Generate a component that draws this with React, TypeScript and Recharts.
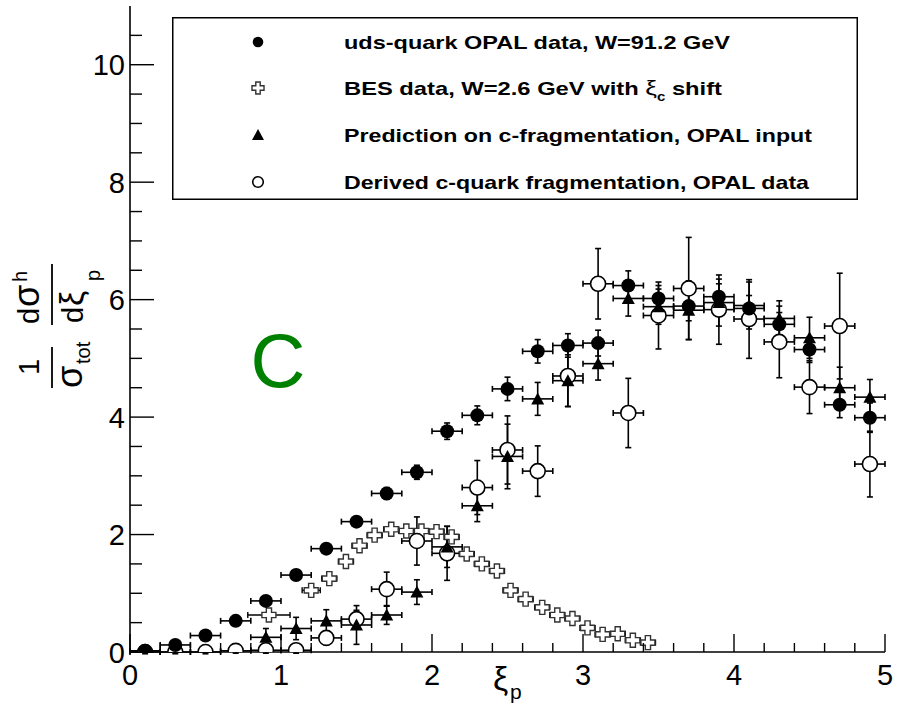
import React from "react";
import { ComposedChart, Scatter, XAxis, YAxis, ErrorBar, Legend } from "recharts";

// uds-quark OPAL data, W=91.2 GeV
const opalX = [0.1, 0.3, 0.5, 0.7, 0.9, 1.1, 1.3, 1.5, 1.7, 1.9, 2.1, 2.3, 2.5, 2.7, 2.9, 3.1, 3.3, 3.5, 3.7, 3.9, 4.1, 4.3, 4.5, 4.7, 4.9];
const opalY = [0.02, 0.12, 0.28, 0.53, 0.87, 1.31, 1.76, 2.22, 2.7, 3.06, 3.76, 4.03, 4.48, 5.12, 5.22, 5.26, 6.24, 6.02, 5.89, 6.05, 5.85, 5.58, 5.15, 4.21, 3.99];
const opalErr = [0.02, 0.03, 0.03, 0.04, 0.05, 0.06, 0.07, 0.08, 0.1, 0.12, 0.14, 0.16, 0.2, 0.2, 0.2, 0.22, 0.25, 0.22, 0.25, 0.22, 0.22, 0.2, 0.22, 0.22, 0.25];

// BES data, W=2.6 GeV with xi_c shift
const besX = [0.92, 1.2, 1.32, 1.43, 1.52, 1.62, 1.73, 1.83, 1.93, 2.03, 2.13, 2.23, 2.33, 2.43, 2.52, 2.62, 2.73, 2.83, 2.93, 3.03, 3.13, 3.23, 3.33, 3.43];
const besY = [0.63, 1.05, 1.25, 1.54, 1.81, 1.99, 2.09, 2.06, 2.06, 2.05, 1.96, 1.67, 1.5, 1.38, 1.05, 0.9, 0.76, 0.63, 0.57, 0.41, 0.3, 0.31, 0.2, 0.16];
const besXErr = [0.14, 0.06, 0.05, 0.05, 0.05, 0.05, 0.05, 0.05, 0.05, 0.05, 0.05, 0.05, 0.05, 0.05, 0.05, 0.05, 0.05, 0.05, 0.05, 0.05, 0.05, 0.05, 0.05, 0.05];
const besYErr = [0.02, 0.02, 0.02, 0.02, 0.02, 0.02, 0.02, 0.02, 0.02, 0.02, 0.02, 0.02, 0.02, 0.02, 0.02, 0.02, 0.02, 0.02, 0.02, 0.02, 0.02, 0.02, 0.02, 0.02];

// Prediction on c-fragmentation, OPAL input
const predX = [0.9, 1.1, 1.3, 1.5, 1.7, 1.9, 2.1, 2.3, 2.5, 2.7, 2.9, 3.1, 3.3, 3.5, 3.7, 3.9, 4.1, 4.3, 4.5, 4.7, 4.9];
const predY = [0.25, 0.4, 0.53, 0.46, 0.63, 1.02, 1.79, 2.49, 3.33, 4.31, 4.62, 4.91, 6.02, 5.88, 5.82, 5.95, 5.9, 5.68, 5.35, 4.5, 4.34];
const predErr = [0.15, 0.19, 0.19, 0.33, 0.16, 0.21, 0.35, 0.27, 0.55, 0.28, 0.44, 0.28, 0.3, 0.3, 0.5, 0.4, 0.4, 0.3, 0.35, 0.35, 0.3];

// Derived c-quark fragmentation, OPAL data
const derX = opalX;
const derY = [0, 0, 0, 0.02, 0.03, 0.03, 0.24, 0.56, 1.07, 1.89, 1.68, 2.8, 3.44, 3.08, 4.7, 6.27, 4.07, 5.73, 6.19, 5.83, 5.67, 5.28, 4.51, 5.55, 3.2];
const derErr = [0.03, 0.03, 0.03, 0.04, 0.05, 0.05, 0.12, 0.15, 0.29, 0.41, 0.46, 0.46, 0.58, 0.43, 0.52, 0.6, 0.59, 0.57, 0.87, 0.59, 0.67, 0.61, 0.45, 0.9, 0.56];

const BIN_HALF = 0.1;

const xMajor = [0, 1, 2, 3, 4, 5];
const xTicks = [0, 0.2, 0.4, 0.6, 0.8, 1, 1.2, 1.4, 1.6, 1.8, 2, 2.2, 2.4, 2.6, 2.8, 3, 3.2, 3.4, 3.6, 3.8, 4, 4.2, 4.4, 4.6, 4.8, 5];
const yMajor = [0, 2, 4, 6, 8, 10];
const yTicks = [0, 0.5, 1, 1.5, 2, 2.5, 3, 3.5, 4, 4.5, 5, 5.5, 6, 6.5, 7, 7.5, 8, 8.5, 9, 9.5, 10, 10.5];

const FONT = "'Liberation Sans', Arial, Helvetica, sans-serif";

const rows = (xs: number[], ys: number[], ex: number[] | number, ey: number[]) =>
  xs.map((x, i) => ({ x, y: ys[i], ex: Array.isArray(ex) ? ex[i] : ex, ey: ey[i] }));

const opalData = rows(opalX, opalY, BIN_HALF, opalErr);
const besData = rows(besX, besY, besXErr, besYErr);
const predData = rows(predX, predY, BIN_HALF, predErr);
const derData = rows(derX, derY, BIN_HALF, derErr);

// marker shapes
const Dot = ({ cx, cy, r = 7 }: any) => <circle cx={cx} cy={cy} r={r} fill="#000" />;
const Ring = ({ cx, cy, r = 7.5 }: any) => (
  <circle cx={cx} cy={cy} r={r} fill="#fff" stroke="#000" strokeWidth={1.6} />
);
const Tri = ({ cx, cy, s = 6.5 }: any) => (
  <polygon points={`${cx},${cy - s} ${cx - s},${cy + s * 0.85} ${cx + s},${cy + s * 0.85}`} fill="#000" />
);
const Cross = ({ cx, cy, L = 7, a = 2.6 }: any) => (
  <path
    d={`M${cx - a},${cy - L}H${cx + a}V${cy - a}H${cx + L}V${cy + a}H${cx + a}V${cy + L}H${cx - a}V${cy + a}H${cx - L}V${cy - a}H${cx - a}Z`}
    fill="#fff"
    stroke="#333"
    strokeWidth={1.4}
  />
);

function XTick({ x, y, payload }: any) {
  const v = payload.value;
  const major = xMajor.some((m) => Math.abs(m - v) < 1e-6);
  return (
    <g>
      <line x1={x} x2={x} y1={y} y2={y - (major ? 18 : 9)} stroke="#000" strokeWidth={1.4} />
      {major && (
        <text x={x} y={y + 33} textAnchor="middle" fontSize={29} fontFamily={FONT} fill="#000">
          {v}
        </text>
      )}
    </g>
  );
}

function YTick({ x, y, payload }: any) {
  const v = payload.value;
  const major = yMajor.some((m) => Math.abs(m - v) < 1e-6);
  return (
    <g>
      <line x1={x} x2={x + (major ? 24 : 12)} y1={y} y2={y} stroke="#000" strokeWidth={1.4} />
      {major && (
        <text x={x - 5} y={y + 10.5} textAnchor="end" fontSize={29} fontFamily={FONT} fill="#000">
          {v}
        </text>
      )}
    </g>
  );
}

// 1/sigma_tot dsigma^h/dxi_p, drawn rotated
function YTitle() {
  return (
    <g transform="translate(52,325) rotate(-90)" fontFamily={FONT} fill="#000">
      <text x={-42} y={-13} fontSize={29} textAnchor="middle">1</text>
      <line x1={-63} x2={-22} y1={0} y2={0} stroke="#000" strokeWidth={1.8} />
      <text x={-63} y={30} fontSize={36}>σ</text>
      <text x={-39} y={38} fontSize={20}>tot</text>
      <text x={1} y={-13} fontSize={29}>d</text>
      <text x={18} y={-13} fontSize={36}>σ</text>
      <text x={43} y={-25} fontSize={20}>h</text>
      <line x1={0} x2={61} y1={0} y2={0} stroke="#000" strokeWidth={1.8} />
      <text x={2} y={31} fontSize={29}>d</text>
      <text x={19} y={31} fontSize={34}>ξ</text>
      <text x={44} y={48} fontSize={20}>p</text>
    </g>
  );
}

function XTitle() {
  return (
    <g fontFamily={FONT} fill="#000">
      <text x={493} y={690} fontSize={34}>ξ</text>
      <text x={510} y={699} fontSize={21}>p</text>
      <text x={278} y={387} fontSize={76} textAnchor="middle" fill="#008000">C</text>
    </g>
  );
}

function LegendBox() {
  const mx = 86;
  const tx = 172;
  const cy = [25, 71, 118, 165];
  const common = { x: tx, fontSize: 19, fontWeight: "bold", fontFamily: FONT, lengthAdjust: "spacingAndGlyphs" } as any;
  return (
    <svg width={686} height={183} style={{ display: "block" }}>
      <rect x={0.75} y={0.75} width={684.5} height={181.5} fill="#fff" stroke="#000" strokeWidth={1.5} />
      <Dot cx={mx} cy={cy[0]} r={5.3} />
      <Cross cx={mx} cy={cy[1]} L={6} a={2.2} />
      <Tri cx={mx} cy={cy[2]} s={6} />
      <Ring cx={mx} cy={cy[3]} r={5.3} />
      <text {...common} y={cy[0] + 7} textLength={386}>uds-quark OPAL data, W=91.2 GeV</text>
      <text {...common} y={cy[1] + 7} textLength={378}>
        BES data, W=2.6 GeV with <tspan fontWeight="normal" fontSize={21}>ξ</tspan>
        <tspan fontSize={12} dy={6}>c</tspan>
        <tspan dy={-6}> shift</tspan>
      </text>
      <text {...common} y={cy[2] + 7} textLength={468}>Prediction on c-fragmentation, OPAL input</text>
      <text {...common} y={cy[3] + 7} textLength={465}>Derived c-quark fragmentation, OPAL data</text>
    </svg>
  );
}

export default function App() {
  return (
    <div style={{ position: "absolute", left: 0, top: 0, background: "#fff" }}>
      <ComposedChart width={900} height={709} margin={{ top: 6, right: 15, left: 0, bottom: 0 }}>
        <XAxis
          dataKey="x"
          type="number"
          domain={[0, 5]}
          ticks={xTicks}
          interval={0}
          height={57}
          tickSize={0}
          tickMargin={0}
          tickLine={false}
          axisLine={{ stroke: "#000", strokeWidth: 1.6 }}
          tick={<XTick />}
          allowDataOverflow
          label={{ content: () => <XTitle /> }}
        />
        <YAxis
          dataKey="y"
          type="number"
          domain={[0, 11]}
          ticks={yTicks}
          interval={0}
          width={130}
          tickSize={0}
          tickMargin={0}
          tickLine={false}
          axisLine={{ stroke: "#000", strokeWidth: 1.6 }}
          tick={<YTick />}
          allowDataOverflow
          label={{ content: () => <YTitle /> }}
        />
        <XAxis
          xAxisId="top"
          orientation="top"
          type="number"
          domain={[0, 5]}
          height={0}
          tick={false}
          tickLine={false}
          axisLine={{ stroke: "#000", strokeWidth: 1.6 }}
        />
        <YAxis
          yAxisId="right"
          orientation="right"
          type="number"
          domain={[0, 11]}
          width={0}
          tick={false}
          tickLine={false}
          axisLine={{ stroke: "#000", strokeWidth: 1.6 }}
        />
        <Legend
          layout="horizontal"
          verticalAlign="middle"
          align="center"
          content={() => <LegendBox />}
          wrapperStyle={{ left: 172, top: 17, width: 686, height: 183 }}
        />
        <Scatter name="BES" data={besData} isAnimationActive={false} shape={(p: any) => <Cross cx={p.cx} cy={p.cy} />}>
          <ErrorBar dataKey="ex" direction="x" width={3} stroke="#000" strokeWidth={1.4} isAnimationActive={false} />
        </Scatter>
        <Scatter name="Derived" data={derData} isAnimationActive={false} shape={(p: any) => <Ring cx={p.cx} cy={p.cy} />}>
          <ErrorBar dataKey="ex" direction="x" width={3} stroke="#000" strokeWidth={1.6} isAnimationActive={false} />
          <ErrorBar dataKey="ey" direction="y" width={3} stroke="#000" strokeWidth={1.6} isAnimationActive={false} />
        </Scatter>
        <Scatter name="Prediction" data={predData} isAnimationActive={false} shape={(p: any) => <Tri cx={p.cx} cy={p.cy} />}>
          <ErrorBar dataKey="ex" direction="x" width={3} stroke="#000" strokeWidth={1.6} isAnimationActive={false} />
          <ErrorBar dataKey="ey" direction="y" width={3} stroke="#000" strokeWidth={1.6} isAnimationActive={false} />
        </Scatter>
        <Scatter name="OPAL" data={opalData} isAnimationActive={false} shape={(p: any) => <Dot cx={p.cx} cy={p.cy} />}>
          <ErrorBar dataKey="ex" direction="x" width={3} stroke="#000" strokeWidth={1.6} isAnimationActive={false} />
          <ErrorBar dataKey="ey" direction="y" width={3} stroke="#000" strokeWidth={1.6} isAnimationActive={false} />
        </Scatter>
      </ComposedChart>
    </div>
  );
}
